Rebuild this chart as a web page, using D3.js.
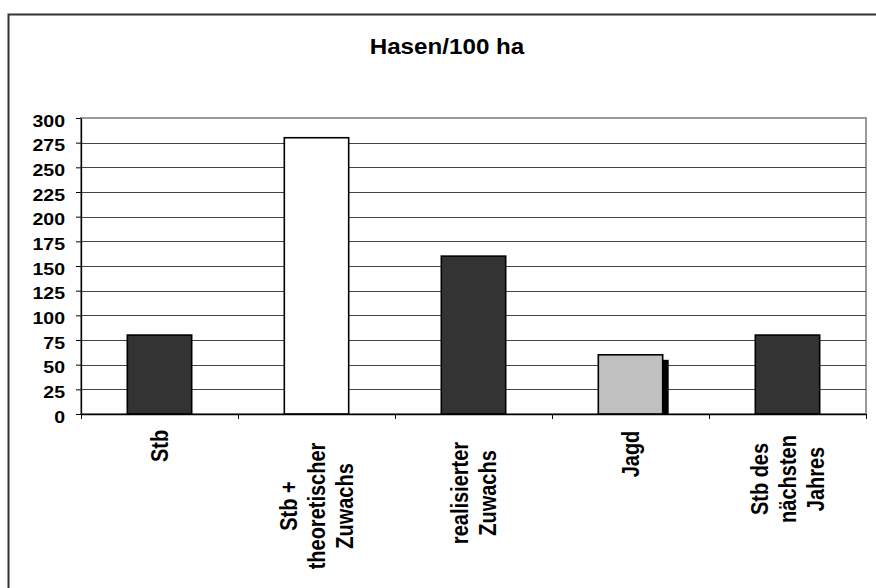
<!DOCTYPE html>
<html>
<head>
<meta charset="utf-8">
<script src="https://cdn.jsdelivr.net/npm/d3@7"></script>
<style>
  html, body { margin: 0; padding: 0; background: #fff; overflow: hidden; }
  svg { display: block; }
  text { font-family: "Liberation Sans", Arial, sans-serif; font-weight: bold; fill: #000; }
</style>
</head>
<body>
<svg id="chart" width="876" height="588"></svg>
<script>
// Category labels (one entry per line), values and bar colours
const categories = [
  ["Stb"],
  ["Stb +", "theoretischer", "Zuwachs"],
  ["realisierter", "Zuwachs"],
  ["Jagd"],
  ["Stb des", "nächsten", "Jahres"]
];
const values = [80, 280, 160, 60, 80];
const barFills = ["#333333", "#ffffff", "#333333", "#c0c0c0", "#333333"];
const shadowed = [false, false, false, true, false];
const yTicks = [0, 25, 50, 75, 100, 125, 150, 175, 200, 225, 250, 275, 300];
const title = "Hasen/100 ha";

// Layout
const plot = { left: 81, right: 866, top: 118, bottom: 414 };
const labelMidY = [446, 506, 493, 454, 479];
const lineGap = 28;

const svg = d3.select("#chart");

// Outer chart frame: only its top and left edges fall inside the view
svg.append("path")
  .attr("d", "M8.5,600V14.5H900")
  .attr("fill", "none").attr("stroke", "#333").attr("stroke-width", 2);

// Title
svg.append("text")
  .attr("transform", "translate(447,54) scale(1.1,1)")
  .attr("text-anchor", "middle")
  .style("font-size", "22px")
  .text(title);

const y = d3.scaleLinear().domain([0, 300]).range([plot.bottom, plot.top]);
const xBand = d3.scaleBand().domain(d3.range(categories.length))
  .range([plot.left, plot.right]).padding(0);
const xEdge = d3.scaleLinear().domain([0, categories.length]).range([plot.left, plot.right]);

// Plot area frame
svg.append("rect")
  .attr("x", plot.left).attr("y", plot.top)
  .attr("width", plot.right - plot.left).attr("height", plot.bottom - plot.top)
  .attr("fill", "#fff").attr("stroke", "#9a9a9a").attr("stroke-width", 2);

// Horizontal gridlines
svg.append("g").selectAll("line")
  .data(yTicks.filter(v => v > 0 && v < 300))
  .join("line")
  .attr("x1", plot.left).attr("x2", plot.right)
  .attr("y1", d => Math.round(y(d)) + 0.5).attr("y2", d => Math.round(y(d)) + 0.5)
  .attr("stroke", "#444").attr("stroke-width", 1);

// Bars
const barW = xBand.bandwidth() * 0.41;
const barX = i => xBand(i) + (xBand.bandwidth() - barW) / 2;

const bars = svg.append("g");
bars.selectAll("rect.shadow")
  .data(values.map((v, i) => ({ v, i })).filter(d => shadowed[d.i]))
  .join("rect")
  .attr("class", "shadow")
  .attr("x", d => barX(d.i) + 6)
  .attr("y", d => y(d.v) + 5)
  .attr("width", barW)
  .attr("height", d => y(0) - y(d.v) - 5)
  .attr("fill", "#000");

bars.selectAll("rect.bar")
  .data(values)
  .join("rect")
  .attr("class", "bar")
  .attr("x", (d, i) => barX(i))
  .attr("y", d => y(d))
  .attr("width", barW)
  .attr("height", d => y(0) - y(d))
  .attr("fill", (d, i) => barFills[i])
  .attr("stroke", "#000").attr("stroke-width", 1.6);

// Y axis
const yAxis = svg.append("g")
  .attr("transform", `translate(${plot.left},0)`)
  .call(d3.axisLeft(y).tickValues(yTicks).tickSize(5).tickSizeOuter(0));
yAxis.attr("font-size", null).attr("font-family", null);
yAxis.select(".domain").attr("stroke", "#000").attr("stroke-width", 1.3);
yAxis.selectAll(".tick line").attr("stroke", "#000");
yAxis.selectAll(".tick text")
  .attr("x", 0).attr("dy", "0.5em")
  .attr("transform", "translate(-16,0) scale(1.22,1)")
  .style("font-size", "16px");

// X axis with ticks on category boundaries
const xAxis = svg.append("g")
  .attr("transform", `translate(0,${plot.bottom})`)
  .call(d3.axisBottom(xEdge).tickValues(d3.range(categories.length + 1))
    .tickFormat("").tickSize(5).tickSizeOuter(0));
xAxis.select(".domain").attr("stroke", "#000").attr("stroke-width", 1.3);
xAxis.selectAll(".tick line").attr("stroke", "#000");

// Rotated category labels, lines centred on each other
const labels = svg.append("g");
categories.forEach((lines, i) => {
  const cx = xBand(i) + xBand.bandwidth() / 2;
  lines.forEach((ln, j) => {
    const lx = cx + (j - (lines.length - 1) / 2) * lineGap;
    labels.append("text")
      .attr("transform", `translate(${lx},${labelMidY[i]}) rotate(-90) scale(1,1.15)`)
      .attr("text-anchor", "middle")
      .attr("dy", "0.358em")
      .style("font-size", "20px")
      .text(ln);
  });
});
</script>
</body>
</html>
